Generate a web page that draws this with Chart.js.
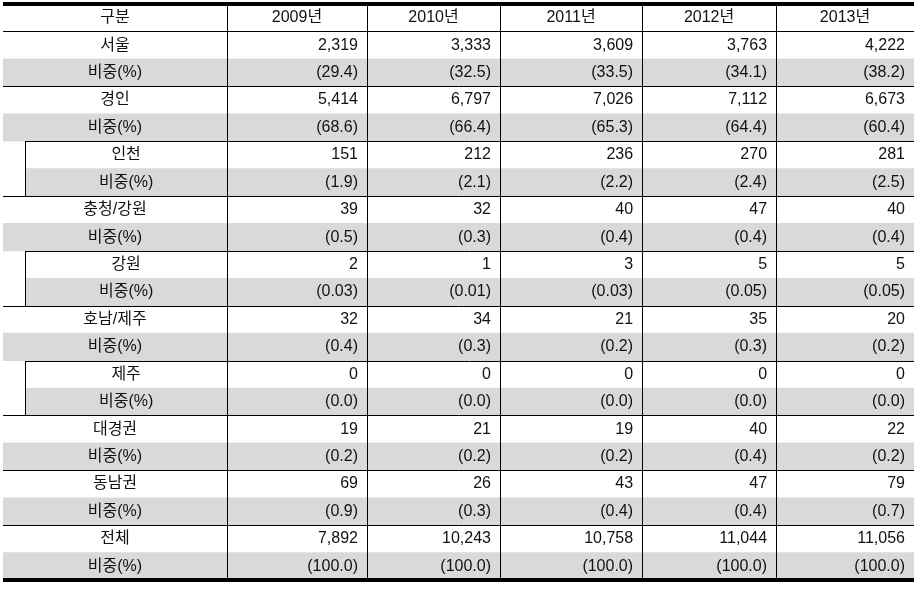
<!DOCTYPE html>
<html>
<head>
<meta charset="utf-8">
<script src="https://cdn.jsdelivr.net/npm/chart.js@4.4.0/dist/chart.umd.min.js"></script>
<style>
  html, body { margin: 0; padding: 0; background: #fff; }
  #wrap { width: 922px; height: 593px; }
</style>
</head>
<body>
<div id="wrap"><canvas id="table-chart" width="922" height="593"></canvas></div>
<script>
var headerLabel = '구분';
var years = ['2009년', '2010년', '2011년', '2012년', '2013년'];
var regions = ['서울', '경인', '인천', '충청/강원', '강원', '호남/제주', '제주', '대경권', '동남권', '전체'];
var isSubRegion = [false, false, true, false, true, false, true, false, false, false];
var shareLabel = '비중(%)';

// 사업체 수 (지역 x 연도)
var counts = [
  [2319, 3333, 3609, 3763, 4222],
  [5414, 6797, 7026, 7112, 6673],
  [151, 212, 236, 270, 281],
  [39, 32, 40, 47, 40],
  [2, 1, 3, 5, 5],
  [32, 34, 21, 35, 20],
  [0, 0, 0, 0, 0],
  [19, 21, 19, 40, 22],
  [69, 26, 43, 47, 79],
  [7892, 10243, 10758, 11044, 11056]
];

// 비중 (%)
var shares = [
  [29.4, 32.5, 33.5, 34.1, 38.2],
  [68.6, 66.4, 65.3, 64.4, 60.4],
  [1.9, 2.1, 2.2, 2.4, 2.5],
  [0.5, 0.3, 0.4, 0.4, 0.4],
  [0.03, 0.01, 0.03, 0.05, 0.05],
  [0.4, 0.3, 0.2, 0.3, 0.2],
  [0.0, 0.0, 0.0, 0.0, 0.0],
  [0.2, 0.2, 0.2, 0.4, 0.2],
  [0.9, 0.3, 0.4, 0.4, 0.7],
  [100.0, 100.0, 100.0, 100.0, 100.0]
];
var shareDigits = [1, 1, 1, 1, 2, 1, 1, 1, 1, 1];

// column edges in column units (x scale), indent for sub-regions
var COL_EDGES = [0, 1.630, 2.649, 3.617, 4.651, 5.626, 6.630];
var INDENT = 0.162;
var SHADE = '#d9d9d9';
var TEXT_COLOR = '#111';
var FONT = "16px 'Liberation Sans', 'Noto Sans CJK KR', sans-serif";
var PAD_RIGHT = 9;

// build rows: header + (region, share) pairs
var rowLabels = [headerLabel];
var shadeData = [null];
regions.forEach(function (r, k) {
  rowLabels.push(r);
  shadeData.push(null);
  rowLabels.push(shareLabel);
  shadeData.push([isSubRegion[k] ? INDENT : COL_EDGES[0], COL_EDGES[COL_EDGES.length - 1]]);
});

function formatCount(n) {
  return n.toLocaleString('en-US');
}

function formatShare(v, d) {
  return '(' + v.toFixed(d) + ')';
}

var tablePlugin = {
  id: 'tableCells',
  afterDatasetsDraw: function (chart) {
    var ctx = chart.ctx;
    var xs = chart.scales.x;
    var ys = chart.scales.y;
    var rowH = ys.getPixelForValue(1) - ys.getPixelForValue(0);
    var last = COL_EDGES.length - 1;

    function rowTop(i) { return ys.getPixelForValue(i) - rowH / 2; }
    function rowMid(i) { return ys.getPixelForValue(i); }
    function edge(e) { return xs.getPixelForValue(COL_EDGES[e]); }

    function hline(y, x0, x1) {
      var yy = Math.round(y) + 0.5;
      ctx.beginPath();
      ctx.moveTo(Math.round(x0), yy);
      ctx.lineTo(Math.round(x1), yy);
      ctx.stroke();
    }
    function vline(x, y0, y1) {
      var xx = Math.round(x) + 0.5;
      ctx.beginPath();
      ctx.moveTo(xx, Math.round(y0));
      ctx.lineTo(xx, Math.round(y1));
      ctx.stroke();
    }

    ctx.save();
    ctx.strokeStyle = '#000';
    ctx.lineWidth = 1;

    // header bottom
    hline(rowTop(1), edge(0), edge(last));

    // group separators
    for (var k = 0; k < regions.length - 1; k++) {
      var start = isSubRegion[k + 1] ? xs.getPixelForValue(INDENT) : edge(0);
      hline(rowTop(3 + 2 * k), start, edge(last));
    }

    // column dividers
    for (var e = 1; e < last; e++) {
      vline(edge(e), rowTop(0), rowTop(rowLabels.length));
    }

    // sub-region indent lines
    regions.forEach(function (r, k) {
      if (isSubRegion[k]) {
        vline(xs.getPixelForValue(INDENT), rowTop(1 + 2 * k), rowTop(3 + 2 * k));
      }
    });

    // thick top / bottom borders
    ctx.fillStyle = '#000';
    var left = Math.round(edge(0));
    var right = Math.round(edge(last));
    var topY = Math.round(rowTop(0));
    var botY = Math.round(rowTop(rowLabels.length));
    ctx.fillRect(left, topY - 2, right - left, 4);
    ctx.fillRect(left, botY - 2, right - left, 4);

    // text
    ctx.font = FONT;
    ctx.fillStyle = TEXT_COLOR;
    ctx.textBaseline = 'middle';

    ctx.textAlign = 'center';
    ctx.fillText(headerLabel, (edge(0) + edge(1)) / 2, rowMid(0));
    years.forEach(function (y, i) {
      ctx.fillText(y, (edge(i + 1) + edge(i + 2)) / 2, rowMid(0));
    });

    regions.forEach(function (r, k) {
      var rCount = 1 + 2 * k;
      var rShare = 2 + 2 * k;
      var x0 = isSubRegion[k] ? xs.getPixelForValue(INDENT) : edge(0);
      var cx = (x0 + edge(1)) / 2;
      ctx.textAlign = 'center';
      ctx.fillText(r, cx, rowMid(rCount));
      ctx.fillText(shareLabel, cx, rowMid(rShare));

      ctx.textAlign = 'right';
      for (var i = 0; i < years.length; i++) {
        var rx = edge(i + 2) - PAD_RIGHT;
        ctx.fillText(formatCount(counts[k][i]), rx, rowMid(rCount));
        ctx.fillText(formatShare(shares[k][i], shareDigits[k]), rx, rowMid(rShare));
      }
    });

    ctx.restore();
  }
};

var chart = new Chart(document.getElementById('table-chart').getContext('2d'), {
  type: 'bar',
  data: {
    labels: rowLabels,
    datasets: [
      {
        label: shareLabel,
        data: shadeData,
        backgroundColor: SHADE,
        borderWidth: 0,
        barPercentage: 1,
        categoryPercentage: 1
      }
    ]
  },
  options: {
    indexAxis: 'y',
    responsive: false,
    animation: false,
    events: [],
    layout: { padding: { left: 3, right: 8, top: 4, bottom: 13 } },
    plugins: {
      legend: { display: false },
      tooltip: { enabled: false }
    },
    scales: {
      x: { type: 'linear', min: COL_EDGES[0], max: COL_EDGES[COL_EDGES.length - 1], display: false },
      y: { type: 'category', offset: true, display: false }
    }
  },
  plugins: [tablePlugin]
});
</script>
</body>
</html>
